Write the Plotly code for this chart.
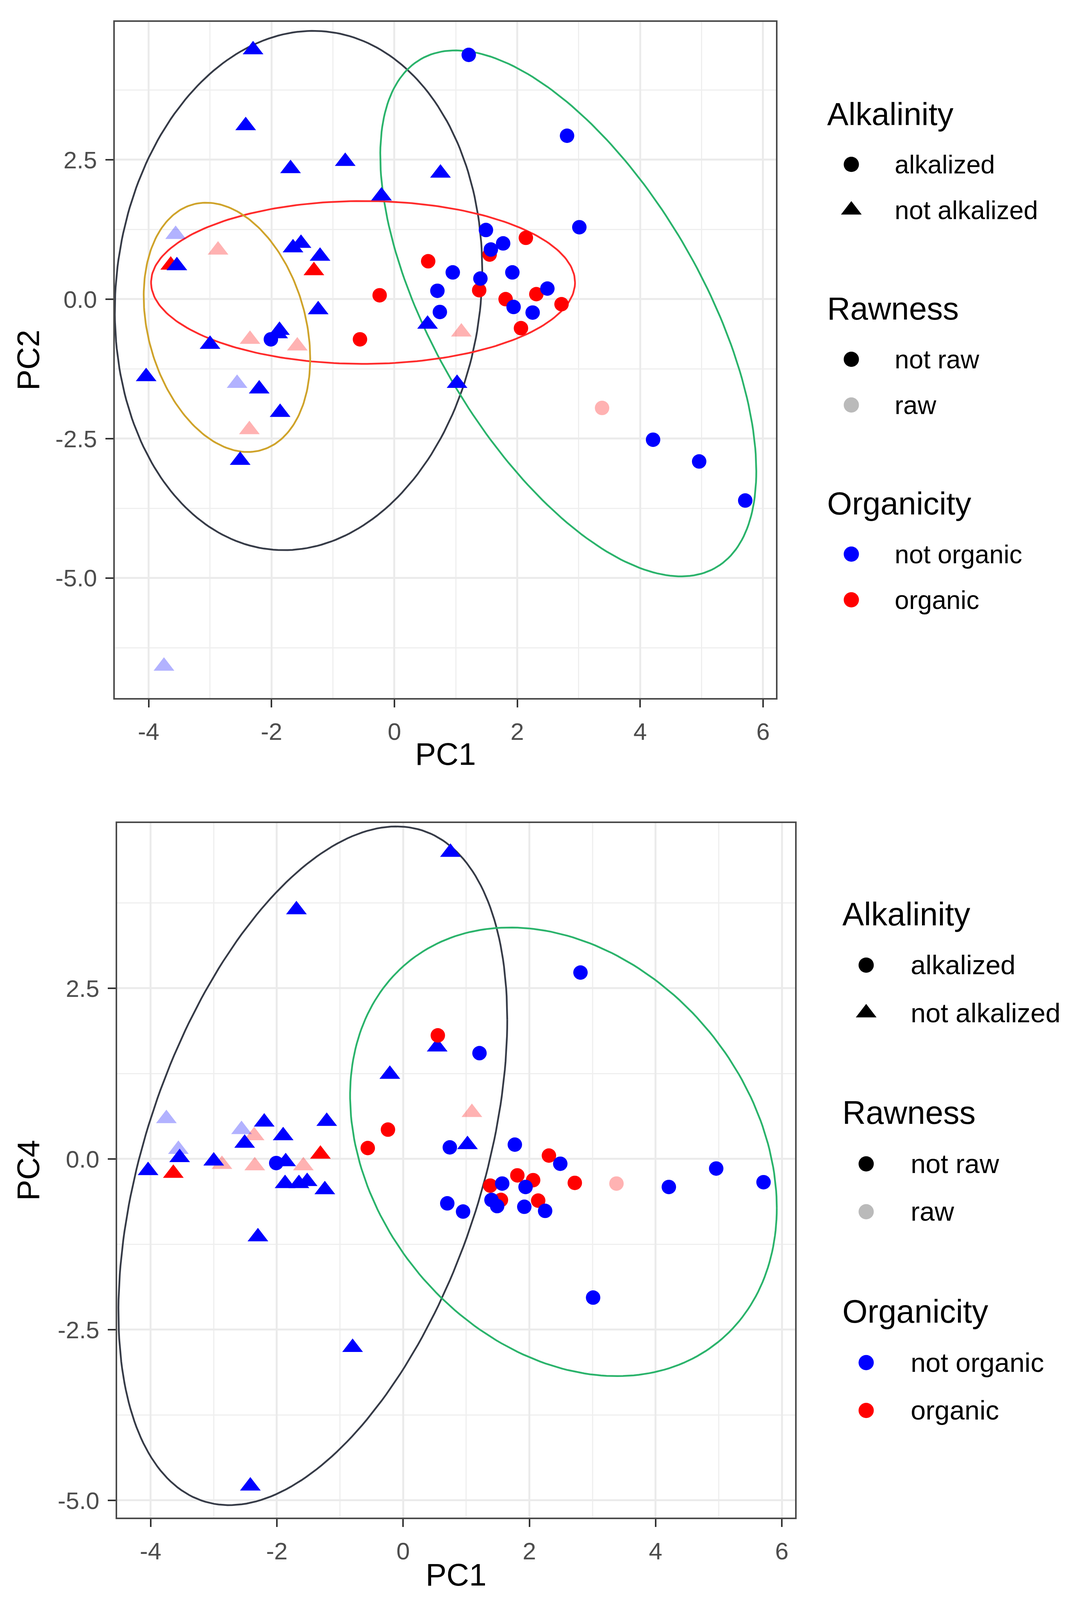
import numpy as np
import pandas as pd
import plotly.graph_objects as go

# positions below are measured on the 2763 x 4516 reference and used as fractions
W, H = 2763, 4516
VIEW_H = 4096  # height of the browser viewport the page is shown in
FONT = "Liberation Sans, Arial, sans-serif"

# PCA scores (one entry per sample)
pc1 = [-4.04, -3.54, -3.00, -2.51, -2.42, -2.30, -2.20, -1.90, -1.87, -1.86,
       -1.69, -1.65, -1.52, -1.24, -1.21, -0.80, -0.21, 0.54, 0.75, 1.02,
       -3.75, -3.56, -2.56,
       -3.64, -1.31,
       -2.87, -2.36, -2.35, -1.58, 1.09,
       -2.01, 0.70, 0.74, 0.95, 1.21, 1.40, 1.49, 1.57, 1.77, 1.92,
       1.94, 2.25, 2.49, 2.81, 3.01, 4.21, 4.96, 5.71,
       -0.56, -0.24, 0.55, 1.38, 1.55, 1.81, 2.06, 2.14, 2.31, 2.72,
       3.38]
pc2 = [-1.39, 0.60, -0.81, -2.89, 3.11, 4.47, -1.61, -0.62, -0.56, -2.03,
       2.34, 0.92, 1.00, -0.19, 0.77, 2.47, 1.85, -0.45, 2.26, -1.51,
       -6.58, 1.16, -1.51,
       0.61, 0.51,
       0.88, -2.34, -0.72, -0.84, -0.59,
       -0.72, 0.15, -0.23, 0.48, 4.38, 0.37, 1.24, 0.89, 1.00, 0.48,
       -0.14, -0.24, 0.19, 2.93, 1.29, -2.52, -2.91, -3.61,
       -0.72, 0.07, 0.68, 0.16, 0.80, 0.00, -0.52, 1.10, 0.09, -0.09,
       -1.95]
pc4 = [-0.17, 0.02, -0.03, 0.23, -4.79, -1.14, 0.54, 0.34, -0.36, -0.04,
       3.65, -0.36, -0.33, -0.45, 0.55, -2.76, 1.24, 1.64, 4.49, 0.21,
       0.59, 0.14, 0.43,
       -0.21, 0.07,
       -0.08, 0.34, -0.10, -0.10, 0.68,
       -0.06, -0.65, 0.17, -0.77, 1.55, -0.60, -0.69, -0.36, 0.21, -0.70,
       -0.41, -0.76, -0.07, 2.73, -2.03, -0.41, -0.14, -0.34,
       0.16, 0.43, 1.81, -0.39, -0.60, -0.24, -0.31, -0.61, 0.05, -0.35,
       -0.36]
alkalized = [0, 0, 0, 0, 0, 0, 0, 0, 0, 0, 0, 0, 0, 0, 0, 0, 0, 0, 0, 0,
             0, 0, 0,
             0, 0,
             0, 0, 0, 0, 0,
             1, 1, 1, 1, 1, 1, 1, 1, 1, 1, 1, 1, 1, 1, 1, 1, 1, 1,
             1, 1, 1, 1, 1, 1, 1, 1, 1, 1,
             1]
raw = [0, 0, 0, 0, 0, 0, 0, 0, 0, 0, 0, 0, 0, 0, 0, 0, 0, 0, 0, 0,
       1, 1, 1,
       0, 0,
       1, 1, 1, 1, 1,
       0, 0, 0, 0, 0, 0, 0, 0, 0, 0, 0, 0, 0, 0, 0, 0, 0, 0,
       0, 0, 0, 0, 0, 0, 0, 0, 0, 0,
       1]
organic = [0, 0, 0, 0, 0, 0, 0, 0, 0, 0, 0, 0, 0, 0, 0, 0, 0, 0, 0, 0,
           0, 0, 0,
           1, 1,
           1, 1, 1, 1, 1,
           0, 0, 0, 0, 0, 0, 0, 0, 0, 0, 0, 0, 0, 0, 0, 0, 0, 0,
           1, 1, 1, 1, 1, 1, 1, 1, 1, 1,
           1]

# confidence ellipses: centre, half extents, skew
ellipses_top = [
    dict(cx=-1.56, cy=0.155, hx=2.99, hy=4.655, skew=0.08, color="#363B47"),
    dict(cx=2.83, cy=-0.255, hx=3.06, hy=4.715, skew=-0.60, color="#2AB36B"),
    dict(cx=-0.51, cy=0.30, hx=3.45, hy=1.46, skew=0.0, color="#FF2B2B"),
    dict(cx=-2.725, cy=-0.505, hx=1.355, hy=2.235, skew=-0.25, color="#CFA32A"),
]
ellipses_bottom = [
    dict(cx=-1.43, cy=-0.10, hx=3.08, hy=4.97, skew=0.43, color="#363B47"),
    dict(cx=2.54, cy=0.105, hx=3.38, hy=3.285, skew=-0.25, color="#2AB36B"),
]

x_ticks = [-4, -2, 0, 2, 4, 6]
x_tick_labels = ["-4", "-2", "0", "2", "4", "6"]
y_ticks = [-5.0, -2.5, 0.0, 2.5]
y_tick_labels = ["-5.0", "-2.5", "0.0", "2.5"]

legend_groups = [
    ("Alkalinity", [("alkalized", "circle", "#000000", 1.0),
                    ("not alkalized", "triangle-up", "#000000", 1.0)]),
    ("Rawness", [("not raw", "circle", "#000000", 1.0),
                 ("raw", "circle", "#000000", 0.27)]),
    ("Organicity", [("not organic", "circle", "#0000FF", 1.0),
                    ("organic", "circle", "#FF0000", 1.0)]),
]

df = pd.DataFrame(dict(pc1=pc1, pc2=pc2, pc4=pc4, alk=alkalized, raw=raw, org=organic))

# pixel boxes of the two panels on the reference
top = dict(x0=294, x1=1987, y0=62, y1=1970, xr=[-4.55, 6.21], yr=[-7.15, 4.97])
bot = dict(x0=300, x1=2036, y0=2323, y1=4283, xr=[-4.53, 6.21], yr=[-5.25, 4.92])

CIRCLE, TRIANGLE = 37, 46


def ellipse_path(e, n=240):
    t = np.linspace(0, 2 * np.pi, n)
    d = np.arcsin(e["skew"])
    return e["cx"] + e["hx"] * np.cos(t), e["cy"] + e["hy"] * np.sin(t + d)


def axis_style(panel, horizontal):
    if horizontal:
        dom = [panel["x0"] / W, panel["x1"] / W]
        vals, text, rng = x_ticks, x_tick_labels, panel["xr"]
        minor_vals = [-3, -1, 1, 3, 5]
    else:
        dom = [1 - panel["y1"] / H, 1 - panel["y0"] / H]
        vals, text, rng = y_ticks, y_tick_labels, panel["yr"]
        minor_vals = [-6.25, -3.75, -1.25, 1.25, 3.75]
    return dict(domain=dom, range=rng, tickmode="array", tickvals=vals, ticktext=text,
                showgrid=True, gridcolor="#EBEBEB", gridwidth=4.5,
                minor=dict(tickmode="array", tickvals=minor_vals, showgrid=True,
                           gridcolor="#EFEFEF", gridwidth=2.5, ticks=""),
                zeroline=False, showline=True, mirror=True, linecolor="#4A4A4A",
                linewidth=4, ticks="outside", ticklen=20, tickwidth=4, tickcolor="#333333",
                tickfont=dict(family=FONT, size=62, color="#4D4D4D"),
                ticklabelstandoff=9, fixedrange=True)


fig = go.Figure()

draw_order = [(0, 1, 1), (0, 1, 0), (0, 0, 1), (0, 0, 0), (1, 1, 1), (1, 0, 1), (1, 0, 0)]

for ycol, ells, xa, ya in [("pc2", ellipses_top, "x", "y"), ("pc4", ellipses_bottom, "x2", "y2")]:
    for e in ells:
        ex, ey = ellipse_path(e)
        fig.add_trace(go.Scatter(x=ex, y=ey, mode="lines", xaxis=xa, yaxis=ya,
                                 line=dict(color=e["color"], width=4.5), showlegend=False,
                                 hoverinfo="skip"))
    for alk, rw, org in draw_order:
        sub = df[(df.alk == alk) & (df.raw == rw) & (df.org == org)]
        fig.add_trace(go.Scatter(
            x=sub.pc1, y=sub[ycol], mode="markers", xaxis=xa, yaxis=ya, showlegend=False,
            marker=dict(symbol="circle" if alk else "triangle-up",
                        size=CIRCLE if alk else TRIANGLE,
                        color="#FF0000" if org else "#0000FF",
                        opacity=0.3 if rw else 1.0, line=dict(width=0))))

# hand-placed ggplot style legends on a full-page pixel axis
annotations = []
legend_boxes = [
    dict(title_x=2116, title_y=321, group_step=550, first=143, step=129,
         glyph_x=2180, text_x=2289, title_size=82, text_size=66),
    dict(title_x=2155, title_y=2580, group_step=561, first=144, step=135,
         glyph_x=2218, text_x=2330, title_size=83, text_size=69),
]
for box in legend_boxes:
    for gi, (title, items) in enumerate(legend_groups):
        ty = box["title_y"] + gi * box["group_step"]
        annotations.append(dict(text=title, x=box["title_x"] / W, y=1 - ty / H, xref="paper",
                                yref="paper", xanchor="left", yanchor="middle", showarrow=False,
                                font=dict(family=FONT, size=box["title_size"], color="#000000")))
        for ii, (label, sym, col, op) in enumerate(items):
            iy = ty + box["first"] + ii * box["step"]
            fig.add_trace(go.Scatter(
                x=[box["glyph_x"]], y=[iy], mode="markers", xaxis="x3", yaxis="y3",
                showlegend=False, hoverinfo="skip",
                marker=dict(symbol=sym, size=CIRCLE + 2 if sym == "circle" else TRIANGLE,
                            color=col, opacity=op, line=dict(width=0))))
            annotations.append(dict(text=label, x=box["text_x"] / W, y=1 - iy / H, xref="paper",
                                    yref="paper", xanchor="left", yanchor="middle",
                                    showarrow=False,
                                    font=dict(family=FONT, size=box["text_size"], color="#000000")))

# axis titles
for text, px, py, ang in [("PC2", 73, (top["y0"] + top["y1"]) / 2, -90),
                          ("PC1", (top["x0"] + top["x1"]) / 2, 2128, 0),
                          ("PC4", 73, (bot["y0"] + bot["y1"]) / 2, -90),
                          ("PC1", (bot["x0"] + bot["x1"]) / 2, 4445, 0)]:
    annotations.append(dict(text=text, x=px / W, y=1 - py / H, xref="paper", yref="paper",
                            xanchor="center", yanchor="middle", showarrow=False, textangle=ang,
                            font=dict(family=FONT, size=80, color="#000000")))

fig.update_layout(
    width=W, height=VIEW_H, margin=dict(l=0, r=0, t=0, b=0),
    paper_bgcolor="white", plot_bgcolor="rgba(0,0,0,0)",
    xaxis=dict(axis_style(top, True), anchor="y"),
    yaxis=dict(axis_style(top, False), anchor="x"),
    xaxis2=dict(axis_style(bot, True), anchor="y2"),
    yaxis2=dict(axis_style(bot, False), anchor="x2"),
    xaxis3=dict(domain=[0, 1], range=[0, W], visible=False, anchor="y3", fixedrange=True),
    yaxis3=dict(domain=[0, 1], range=[H, 0], visible=False, anchor="x3", fixedrange=True),
    annotations=annotations,
    showlegend=False,
)

# fit the whole figure into the browser window
fit_js = """
document.body.style.margin = '0';
document.body.style.overflow = 'hidden';
var gd = document.getElementById('{plot_id}');
Plotly.relayout(gd, {width: window.innerWidth, height: window.innerHeight});
"""

fig.write_html("out.html", post_script=fit_js, config={"displayModeBar": False})
